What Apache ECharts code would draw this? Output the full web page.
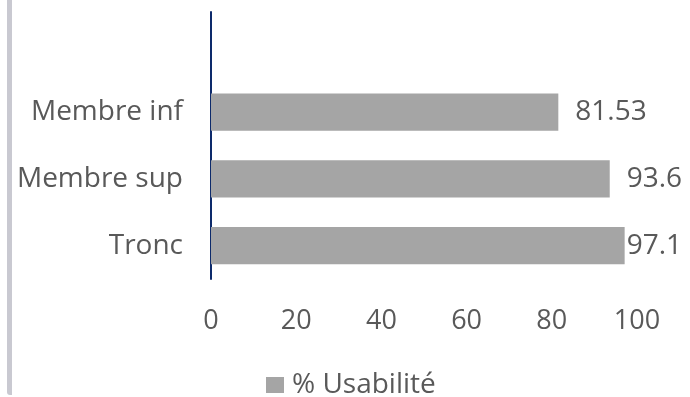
<!DOCTYPE html>
<html>
<head>
<meta charset="utf-8">
<script src="https://cdn.jsdelivr.net/npm/echarts@6/dist/echarts.min.js"></script>
<style>
html,body{margin:0;padding:0;background:#fff;}
#frame{position:absolute;left:7px;top:0;width:5px;height:395px;background:#C9C9D1;border-bottom-left-radius:3px;}
#chart{position:absolute;left:0;top:0;width:690px;height:397px;}
</style>
</head>
<body>
<div id="frame"></div>
<div id="chart"></div>
<script>
// Data (bottom to top), with an empty top slot as in the original chart
var categories = ['Tronc', 'Membre sup', 'Membre inf', ''];
var usabilite = [97.1, 93.6, 81.53, null];
var xTicks = [0, 20, 40, 60, 80, 100];
var seriesName = '% Usabilité';

var FONT = '"Open Sans", "Segoe UI", sans-serif';
var TXT = '#595959';

var chart = echarts.init(document.getElementById('chart'), null, {renderer: 'canvas'});
var barData = usabilite.map(function (v, i) {
  var item = {value: v};
  if (v !== null && v > 95) {
    item.label = {distance: 2};
  }
  return item;
});

chart.setOption({
  animation: false,
  backgroundColor: 'transparent',
  grid: {left: 211, right: 53, top: 12, bottom: 118, containLabel: false},
  legend: {
    top: 366,
    left: 261,
    itemWidth: 18,
    itemHeight: 16,
    itemGap: 8,
    icon: 'rect',
    textStyle: {color: TXT, fontSize: 28, fontFamily: FONT, padding: [0, 0, 0, 3]},
    data: [seriesName]
  },
  xAxis: {
    type: 'value',
    min: xTicks[0],
    max: xTicks[xTicks.length - 1],
    interval: 20,
    axisLine: {show: false},
    axisTick: {show: false},
    splitLine: {show: false},
    axisLabel: {color: TXT, fontSize: 27, fontFamily: FONT, margin: 29}
  },
  yAxis: {
    type: 'category',
    data: categories,
    axisLine: {show: true, lineStyle: {color: '#0D2A6B', width: 2}},
    axisTick: {show: false},
    axisLabel: {color: TXT, fontSize: 28, fontFamily: FONT, margin: 28}
  },
  series: [{
    name: seriesName,
    type: 'bar',
    data: barData,
    barWidth: '56%',
    itemStyle: {color: '#A5A5A5'},
    label: {
      show: true,
      position: 'right',
      distance: 17,
      color: TXT,
      fontSize: 28,
      fontFamily: FONT
    }
  }]
});
</script>
</body>
</html>
